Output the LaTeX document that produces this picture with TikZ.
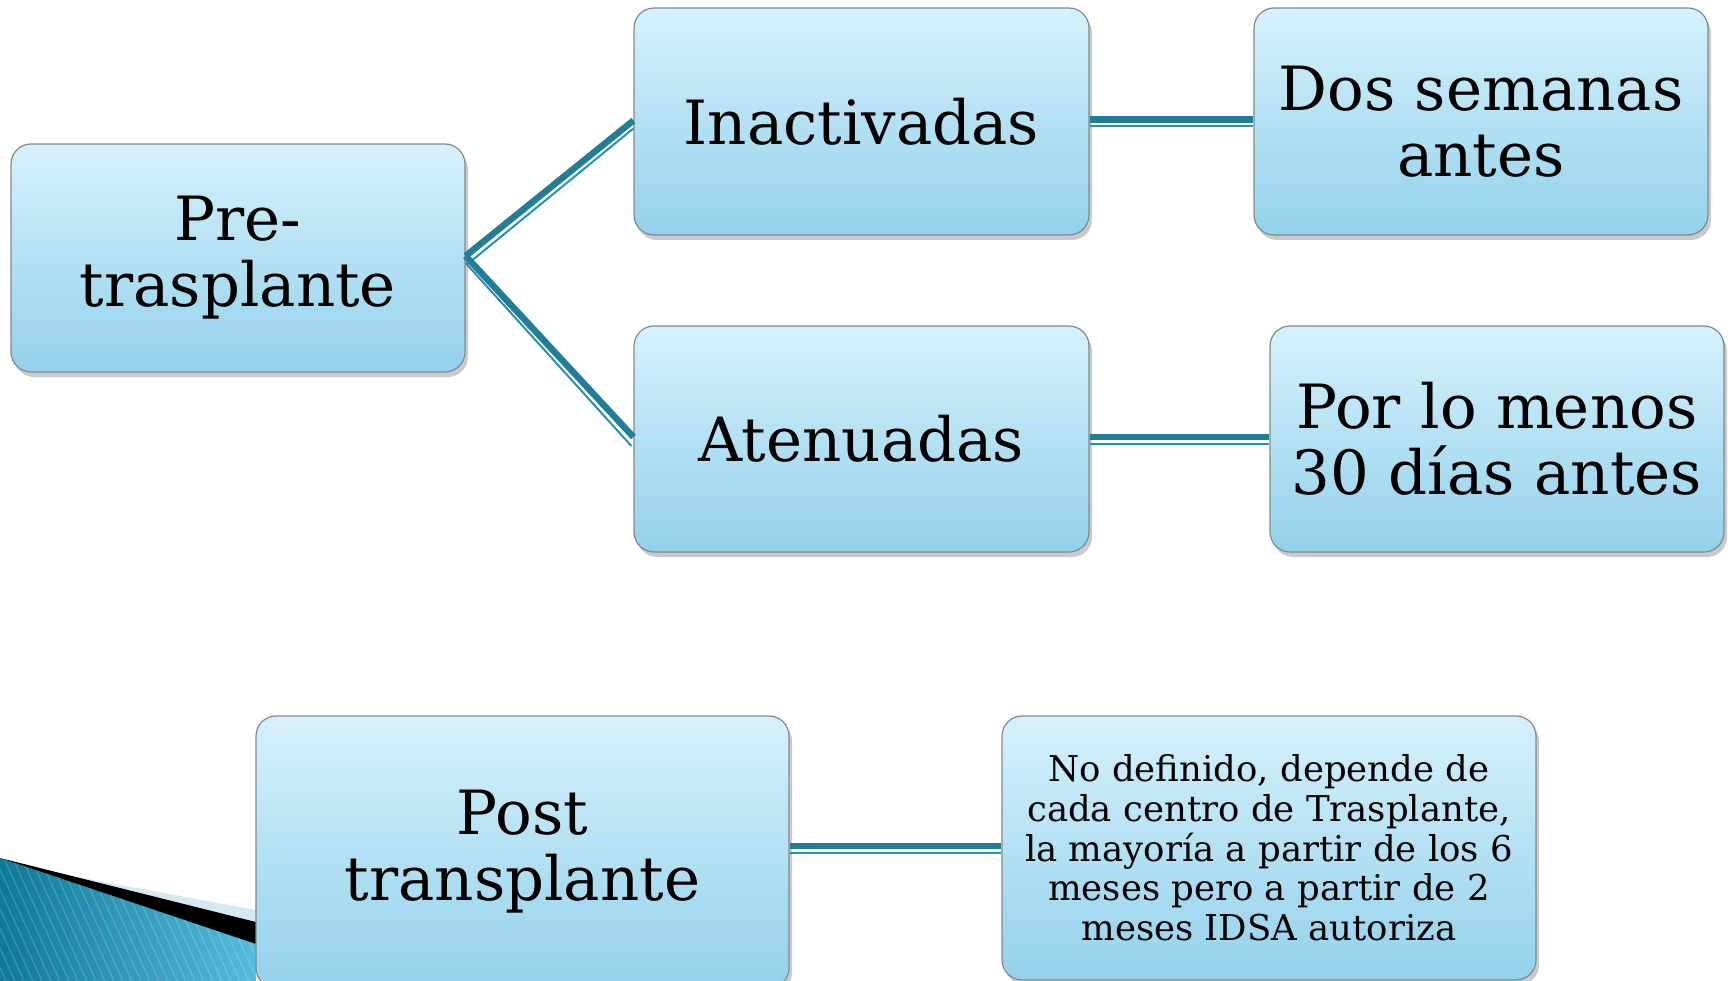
\documentclass[tikz,border=0pt]{standalone}
\usepackage{fontspec}
\setmainfont{DejaVu Serif}
\usetikzlibrary{shadows}
\definecolor{boxtop}{HTML}{D6F1FC}
\definecolor{boxbot}{HTML}{93D1EB}
\definecolor{boxline}{HTML}{7F8A90}
\definecolor{linkdark}{HTML}{217E98}
\definecolor{linklight}{HTML}{2B90AC}
\definecolor{decodark}{HTML}{0E7896}
\definecolor{decolight}{HTML}{56BBDD}
\definecolor{decopale}{HTML}{D4E9F2}
\tikzset{
  cardbox/.style={draw=boxline, line width=1.2pt, rounded corners=20pt,
    top color=boxtop, bottom color=boxbot, align=center, inner sep=0pt,
    text=black,
    drop shadow={shadow xshift=3pt, shadow yshift=-5pt, opacity=0.35, fill=black!60}},
  bigtext/.style={font=\fontsize{61}{66}\selectfont},
  smalltext/.style={font=\fontsize{35.5}{39.7}\selectfont},
  linkthick/.style={draw=linkdark, line width=6.5pt},
  linkthin/.style={draw=linklight, line width=2pt},
}
\begin{document}
\begin{tikzpicture}[x=1pt,y=-1pt]
\useasboundingbox (0,0) rectangle (1728,981);
% bottom-left decoration
\begin{scope}
  \clip (0,858) -- (256,944) -- (256,981) -- (0,981) -- cycle;
  \shade[left color=decodark, right color=decolight] (0,850) rectangle (256,981);
  \foreach \i in {-20,...,40} {
    \draw[white, opacity=0.18, line width=1.2pt] (\i*9,850) -- (\i*9+60,981);
  }
\end{scope}
\fill[decopale] (50,872) -- (256,910) -- (256,923) -- cycle;
\fill[black] (0,858) -- (256,922) -- (256,944) -- cycle;

% nodes
\node[cardbox, bigtext, minimum width=454pt, minimum height=228pt] (pre) at (238,258) {Pre-\\trasplante};
\node[cardbox, bigtext, minimum width=455pt, minimum height=227pt] (ina) at (861.5,121.5) {Inactivadas};
\node[cardbox, bigtext, minimum width=454pt, minimum height=227pt] (dos) at (1481,121.5) {Dos semanas\\antes};
\node[cardbox, bigtext, minimum width=455pt, minimum height=226pt] (ate) at (861.5,439) {Atenuadas};
\node[cardbox, bigtext, minimum width=454pt, minimum height=226pt] (por) at (1497,439) {Por lo menos\\30 días antes};
\node[cardbox, bigtext, minimum width=533pt, minimum height=272pt] (post) at (522.5,852) {Post\\transplante};
\node[cardbox, smalltext, minimum width=534pt, minimum height=264pt] (nod) at (1269,848) {No definido, depende de\\cada centro de Trasplante,\\la mayoría a partir de los 6\\meses pero a partir de 2\\meses IDSA autoriza};

% connectors (double lines)
\draw[linkthick] ([yshift=2pt]pre.east) -- ([yshift=1pt]ina.west);
\draw[linkthin] ([yshift=-6pt,xshift=2pt]pre.east) -- ([yshift=-7pt]ina.west);
\draw[linkthick] ([yshift=2pt]pre.east) -- ([yshift=2pt]ate.west);
\draw[linkthin] ([yshift=-5pt]pre.east) -- ([yshift=-7pt,xshift=-2pt]ate.west);

\draw[linkthick] ([yshift=2pt]ina.east) -- ([yshift=2pt]ina.east -| dos.west);
\draw[linkthin] ([yshift=-5pt]ina.east) -- ([yshift=-5pt]ina.east -| dos.west);
\draw[linkthick] ([yshift=2pt]ate.east) -- ([yshift=2pt]ate.east -| por.west);
\draw[linkthin] ([yshift=-5pt]ate.east) -- ([yshift=-5pt]ate.east -| por.west);
\draw[linkthick] ([yshift=2pt]post.east |- nod.west) -- ([yshift=2pt]nod.west);
\draw[linkthin] ([yshift=-5pt]post.east |- nod.west) -- ([yshift=-5pt]nod.west);
\end{tikzpicture}
\end{document}
